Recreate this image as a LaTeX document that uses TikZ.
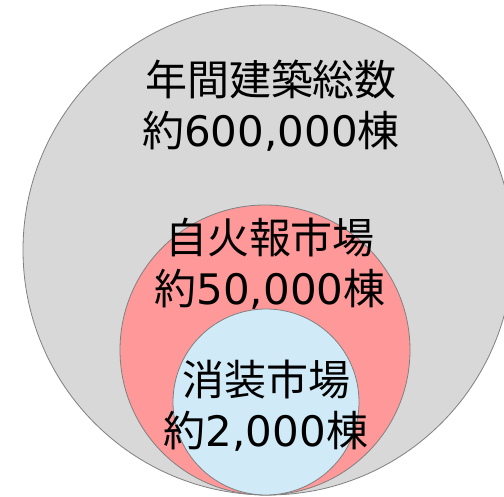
\documentclass[tikz,border=0pt]{standalone}
\usepackage{fontspec}
\setmainfont{Noto Sans CJK JP}
\newfontfamily\dv{DejaVu Sans}
\begin{document}
\begin{tikzpicture}[x=1pt,y=-1pt,
  ring/.style={draw=black!50,line width=0.8pt},
  lbl/.style={align=center,font=\fontsize{42}{51}\selectfont,inner sep=0pt}]
\useasboundingbox (0,0) rectangle (504,497);
\clip (0,0) rectangle (504,497);
\node[ring,circle,fill={rgb,255:red,216;green,216;blue,216},minimum size=490pt,inner sep=0pt] (all) at (268,250) {};
\node[ring,circle,fill={rgb,255:red,255;green,153;blue,153},minimum size=290pt,inner sep=0pt] (fire) at (265,350) {};
\node[ring,circle,fill={rgb,255:red,208;green,235;blue,247},minimum size=186pt,inner sep=0pt] (ext) at (266,402) {};
\node[lbl] (tall) at (271,106) {年間建築総数\\約{\dv 600,000}棟};
\node[lbl] (tfire) at (270,264) {自火報市場\\約{\dv 50,000}棟};
\node[lbl] (text) at (266,406) {消装市場\\約{\dv 2,000}棟};
\end{tikzpicture}
\end{document}
